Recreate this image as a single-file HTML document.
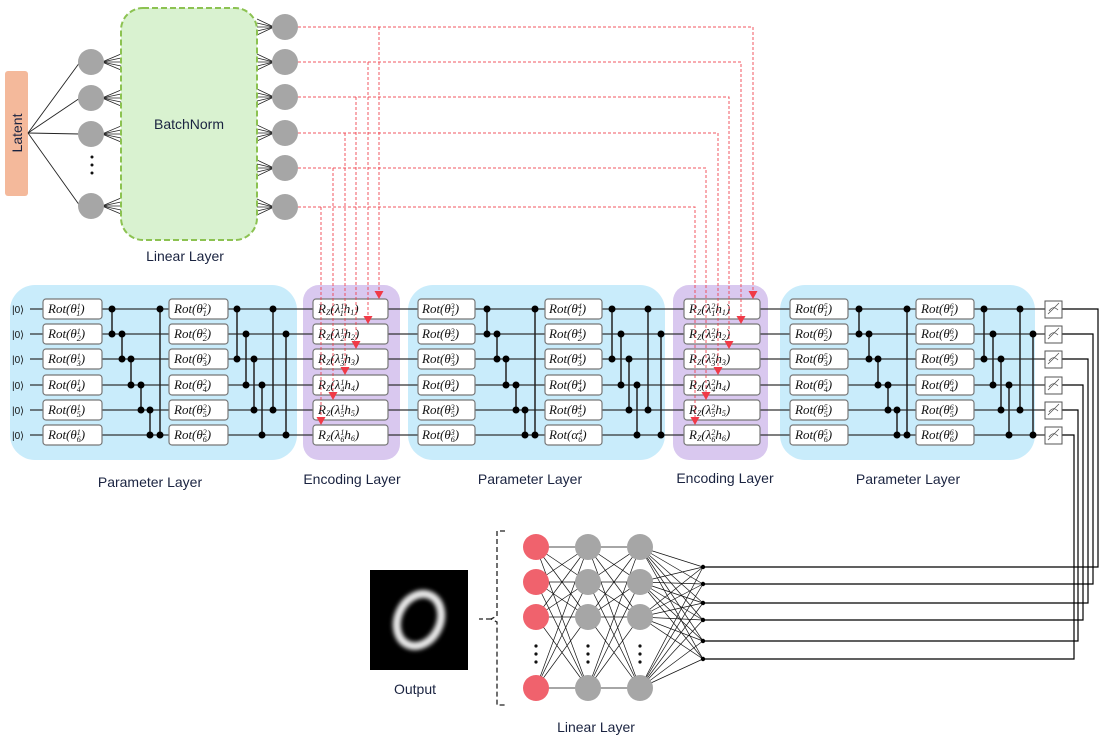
<!DOCTYPE html>
<html><head><meta charset="utf-8"><style>
html,body{margin:0;padding:0;background:#fff;}
svg{display:block;}
.g{font-family:"Liberation Serif",serif;font-style:italic;font-size:13px;fill:#111;}
.s{font-size:8px;}
.lbl{font-family:"Liberation Sans",sans-serif;font-size:14px;fill:#1a2340;}
.k{font-family:"Liberation Sans",sans-serif;font-size:10px;fill:#111;}
</style></head><body>
<svg id="s" width="1105" height="738" viewBox="0 0 1105 738" xmlns="http://www.w3.org/2000/svg">
<defs>
<filter id="bl" x="-50%" y="-50%" width="200%" height="200%"><feGaussianBlur stdDeviation="2.2"/></filter>
</defs>
<rect x="10" y="285" width="287" height="175" rx="25" fill="#c9ecfb"/>
<rect x="303" y="285" width="97" height="175" rx="16" fill="#d9c8ef"/>
<rect x="408" y="285" width="257" height="175" rx="25" fill="#c9ecfb"/>
<rect x="673" y="285" width="95" height="175" rx="16" fill="#d9c8ef"/>
<rect x="780" y="285" width="255" height="175" rx="25" fill="#c9ecfb"/>
<g id="wires"></g>
<g id="boxes"></g>
<g id="dots"></g>
<rect x="5" y="71" width="23" height="125" rx="3" fill="#f4b99b"/>
<text class="lbl" transform="translate(22,133) rotate(-90)" text-anchor="middle" font-size="15">Latent</text>
<g id="topnet"></g>
<rect x="121" y="8" width="136" height="232" rx="22" fill="#d9f2d0" stroke="#8cc251" stroke-width="2" stroke-dasharray="6,3"/>
<text class="lbl" x="189" y="129" text-anchor="middle">BatchNorm</text>
<text class="lbl" x="185" y="261" text-anchor="middle">Linear Layer</text>
<g id="botnet"></g>
<rect x="370" y="570" width="98" height="100" fill="#000"/>
<ellipse cx="419" cy="620" rx="21" ry="27" transform="rotate(25 419 620)" fill="none" stroke="#e8e8e8" stroke-width="8" filter="url(#bl)"/>
<text class="lbl" x="415" y="694" text-anchor="middle">Output</text>
<path d="M505,531 h-8 v85 l-6,3 l6,3 v83 h8 M491,619 h-12" fill="none" stroke="#222" stroke-width="1.3" stroke-dasharray="5,3"/>
<text class="lbl" x="596" y="732" text-anchor="middle">Linear Layer</text>
<text class="lbl" x="150" y="487" text-anchor="middle">Parameter Layer</text>
<text class="lbl" x="352" y="484" text-anchor="middle">Encoding Layer</text>
<text class="lbl" x="530" y="484" text-anchor="middle">Parameter Layer</text>
<text class="lbl" x="725" y="483" text-anchor="middle">Encoding Layer</text>
<text class="lbl" x="908" y="484" text-anchor="middle">Parameter Layer</text>
<text class="k" x="12" y="313">|0⟩</text>
<text class="k" x="12" y="338">|0⟩</text>
<text class="k" x="12" y="363">|0⟩</text>
<text class="k" x="12" y="389">|0⟩</text>
<text class="k" x="12" y="414">|0⟩</text>
<text class="k" x="12" y="439">|0⟩</text>
<g id="txt">
<text class="g" x="48" y="313">Rot(θ<tspan class="s" dy="-4">1</tspan><tspan class="s" dx="-4" dy="7">1</tspan><tspan dy="-3">)</tspan></text>
<text class="g" x="48" y="338">Rot(θ<tspan class="s" dy="-4">1</tspan><tspan class="s" dx="-4" dy="7">2</tspan><tspan dy="-3">)</tspan></text>
<text class="g" x="48" y="363">Rot(θ<tspan class="s" dy="-4">1</tspan><tspan class="s" dx="-4" dy="7">3</tspan><tspan dy="-3">)</tspan></text>
<text class="g" x="48" y="389">Rot(θ<tspan class="s" dy="-4">1</tspan><tspan class="s" dx="-4" dy="7">4</tspan><tspan dy="-3">)</tspan></text>
<text class="g" x="48" y="414">Rot(θ<tspan class="s" dy="-4">1</tspan><tspan class="s" dx="-4" dy="7">5</tspan><tspan dy="-3">)</tspan></text>
<text class="g" x="48" y="439">Rot(θ<tspan class="s" dy="-4">1</tspan><tspan class="s" dx="-4" dy="7">6</tspan><tspan dy="-3">)</tspan></text>
<text class="g" x="174" y="313">Rot(θ<tspan class="s" dy="-4">2</tspan><tspan class="s" dx="-4" dy="7">1</tspan><tspan dy="-3">)</tspan></text>
<text class="g" x="174" y="338">Rot(θ<tspan class="s" dy="-4">2</tspan><tspan class="s" dx="-4" dy="7">2</tspan><tspan dy="-3">)</tspan></text>
<text class="g" x="174" y="363">Rot(θ<tspan class="s" dy="-4">2</tspan><tspan class="s" dx="-4" dy="7">3</tspan><tspan dy="-3">)</tspan></text>
<text class="g" x="174" y="389">Rot(θ<tspan class="s" dy="-4">2</tspan><tspan class="s" dx="-4" dy="7">4</tspan><tspan dy="-3">)</tspan></text>
<text class="g" x="174" y="414">Rot(θ<tspan class="s" dy="-4">2</tspan><tspan class="s" dx="-4" dy="7">5</tspan><tspan dy="-3">)</tspan></text>
<text class="g" x="174" y="439">Rot(θ<tspan class="s" dy="-4">2</tspan><tspan class="s" dx="-4" dy="7">6</tspan><tspan dy="-3">)</tspan></text>
<text class="g" x="318" y="313">R<tspan class="s" dy="2">Z</tspan><tspan dy="-2">(λ</tspan><tspan class="s" dy="-4">1</tspan><tspan class="s" dx="-4" dy="7">1</tspan><tspan dy="-3">h</tspan><tspan class="s" dy="2">1</tspan><tspan dy="-2">)</tspan></text>
<text class="g" x="318" y="338">R<tspan class="s" dy="2">Z</tspan><tspan dy="-2">(λ</tspan><tspan class="s" dy="-4">1</tspan><tspan class="s" dx="-4" dy="7">2</tspan><tspan dy="-3">h</tspan><tspan class="s" dy="2">2</tspan><tspan dy="-2">)</tspan></text>
<text class="g" x="318" y="363">R<tspan class="s" dy="2">Z</tspan><tspan dy="-2">(λ</tspan><tspan class="s" dy="-4">1</tspan><tspan class="s" dx="-4" dy="7">3</tspan><tspan dy="-3">h</tspan><tspan class="s" dy="2">3</tspan><tspan dy="-2">)</tspan></text>
<text class="g" x="318" y="389">R<tspan class="s" dy="2">Z</tspan><tspan dy="-2">(λ</tspan><tspan class="s" dy="-4">1</tspan><tspan class="s" dx="-4" dy="7">4</tspan><tspan dy="-3">h</tspan><tspan class="s" dy="2">4</tspan><tspan dy="-2">)</tspan></text>
<text class="g" x="318" y="414">R<tspan class="s" dy="2">Z</tspan><tspan dy="-2">(λ</tspan><tspan class="s" dy="-4">1</tspan><tspan class="s" dx="-4" dy="7">5</tspan><tspan dy="-3">h</tspan><tspan class="s" dy="2">5</tspan><tspan dy="-2">)</tspan></text>
<text class="g" x="318" y="439">R<tspan class="s" dy="2">Z</tspan><tspan dy="-2">(λ</tspan><tspan class="s" dy="-4">1</tspan><tspan class="s" dx="-4" dy="7">6</tspan><tspan dy="-3">h</tspan><tspan class="s" dy="2">6</tspan><tspan dy="-2">)</tspan></text>
<text class="g" x="422" y="313">Rot(θ<tspan class="s" dy="-4">3</tspan><tspan class="s" dx="-4" dy="7">1</tspan><tspan dy="-3">)</tspan></text>
<text class="g" x="422" y="338">Rot(θ<tspan class="s" dy="-4">3</tspan><tspan class="s" dx="-4" dy="7">2</tspan><tspan dy="-3">)</tspan></text>
<text class="g" x="422" y="363">Rot(θ<tspan class="s" dy="-4">3</tspan><tspan class="s" dx="-4" dy="7">3</tspan><tspan dy="-3">)</tspan></text>
<text class="g" x="422" y="389">Rot(θ<tspan class="s" dy="-4">3</tspan><tspan class="s" dx="-4" dy="7">4</tspan><tspan dy="-3">)</tspan></text>
<text class="g" x="422" y="414">Rot(θ<tspan class="s" dy="-4">3</tspan><tspan class="s" dx="-4" dy="7">5</tspan><tspan dy="-3">)</tspan></text>
<text class="g" x="422" y="439">Rot(θ<tspan class="s" dy="-4">3</tspan><tspan class="s" dx="-4" dy="7">6</tspan><tspan dy="-3">)</tspan></text>
<text class="g" x="549" y="313">Rot(θ<tspan class="s" dy="-4">4</tspan><tspan class="s" dx="-4" dy="7">1</tspan><tspan dy="-3">)</tspan></text>
<text class="g" x="549" y="338">Rot(θ<tspan class="s" dy="-4">4</tspan><tspan class="s" dx="-4" dy="7">2</tspan><tspan dy="-3">)</tspan></text>
<text class="g" x="549" y="363">Rot(θ<tspan class="s" dy="-4">4</tspan><tspan class="s" dx="-4" dy="7">3</tspan><tspan dy="-3">)</tspan></text>
<text class="g" x="549" y="389">Rot(θ<tspan class="s" dy="-4">4</tspan><tspan class="s" dx="-4" dy="7">4</tspan><tspan dy="-3">)</tspan></text>
<text class="g" x="549" y="414">Rot(θ<tspan class="s" dy="-4">4</tspan><tspan class="s" dx="-4" dy="7">5</tspan><tspan dy="-3">)</tspan></text>
<text class="g" x="549" y="439">Rot(α<tspan class="s" dy="-4">4</tspan><tspan class="s" dx="-4" dy="7">6</tspan><tspan dy="-3">)</tspan></text>
<text class="g" x="689" y="313">R<tspan class="s" dy="2">Z</tspan><tspan dy="-2">(λ</tspan><tspan class="s" dy="-4">2</tspan><tspan class="s" dx="-4" dy="7">1</tspan><tspan dy="-3">h</tspan><tspan class="s" dy="2">1</tspan><tspan dy="-2">)</tspan></text>
<text class="g" x="689" y="338">R<tspan class="s" dy="2">Z</tspan><tspan dy="-2">(λ</tspan><tspan class="s" dy="-4">2</tspan><tspan class="s" dx="-4" dy="7">2</tspan><tspan dy="-3">h</tspan><tspan class="s" dy="2">2</tspan><tspan dy="-2">)</tspan></text>
<text class="g" x="689" y="363">R<tspan class="s" dy="2">Z</tspan><tspan dy="-2">(λ</tspan><tspan class="s" dy="-4">2</tspan><tspan class="s" dx="-4" dy="7">3</tspan><tspan dy="-3">h</tspan><tspan class="s" dy="2">3</tspan><tspan dy="-2">)</tspan></text>
<text class="g" x="689" y="389">R<tspan class="s" dy="2">Z</tspan><tspan dy="-2">(λ</tspan><tspan class="s" dy="-4">2</tspan><tspan class="s" dx="-4" dy="7">4</tspan><tspan dy="-3">h</tspan><tspan class="s" dy="2">4</tspan><tspan dy="-2">)</tspan></text>
<text class="g" x="689" y="414">R<tspan class="s" dy="2">Z</tspan><tspan dy="-2">(λ</tspan><tspan class="s" dy="-4">2</tspan><tspan class="s" dx="-4" dy="7">5</tspan><tspan dy="-3">h</tspan><tspan class="s" dy="2">5</tspan><tspan dy="-2">)</tspan></text>
<text class="g" x="689" y="439">R<tspan class="s" dy="2">Z</tspan><tspan dy="-2">(λ</tspan><tspan class="s" dy="-4">2</tspan><tspan class="s" dx="-4" dy="7">6</tspan><tspan dy="-3">h</tspan><tspan class="s" dy="2">6</tspan><tspan dy="-2">)</tspan></text>
<text class="g" x="795" y="313">Rot(θ<tspan class="s" dy="-4">5</tspan><tspan class="s" dx="-4" dy="7">1</tspan><tspan dy="-3">)</tspan></text>
<text class="g" x="795" y="338">Rot(θ<tspan class="s" dy="-4">5</tspan><tspan class="s" dx="-4" dy="7">2</tspan><tspan dy="-3">)</tspan></text>
<text class="g" x="795" y="363">Rot(θ<tspan class="s" dy="-4">5</tspan><tspan class="s" dx="-4" dy="7">3</tspan><tspan dy="-3">)</tspan></text>
<text class="g" x="795" y="389">Rot(θ<tspan class="s" dy="-4">5</tspan><tspan class="s" dx="-4" dy="7">4</tspan><tspan dy="-3">)</tspan></text>
<text class="g" x="795" y="414">Rot(θ<tspan class="s" dy="-4">5</tspan><tspan class="s" dx="-4" dy="7">5</tspan><tspan dy="-3">)</tspan></text>
<text class="g" x="795" y="439">Rot(θ<tspan class="s" dy="-4">5</tspan><tspan class="s" dx="-4" dy="7">6</tspan><tspan dy="-3">)</tspan></text>
<text class="g" x="921" y="313">Rot(θ<tspan class="s" dy="-4">6</tspan><tspan class="s" dx="-4" dy="7">1</tspan><tspan dy="-3">)</tspan></text>
<text class="g" x="921" y="338">Rot(θ<tspan class="s" dy="-4">6</tspan><tspan class="s" dx="-4" dy="7">2</tspan><tspan dy="-3">)</tspan></text>
<text class="g" x="921" y="363">Rot(θ<tspan class="s" dy="-4">6</tspan><tspan class="s" dx="-4" dy="7">3</tspan><tspan dy="-3">)</tspan></text>
<text class="g" x="921" y="389">Rot(θ<tspan class="s" dy="-4">6</tspan><tspan class="s" dx="-4" dy="7">4</tspan><tspan dy="-3">)</tspan></text>
<text class="g" x="921" y="414">Rot(θ<tspan class="s" dy="-4">6</tspan><tspan class="s" dx="-4" dy="7">5</tspan><tspan dy="-3">)</tspan></text>
<text class="g" x="921" y="439">Rot(θ<tspan class="s" dy="-4">6</tspan><tspan class="s" dx="-4" dy="7">6</tspan><tspan dy="-3">)</tspan></text>
</g>
<g id="red"></g>
</svg>
<script>
var NS="http://www.w3.org/2000/svg";
function el(p,t,a){var e=document.createElementNS(NS,t);for(var k in a)e.setAttribute(k,a[k]);document.getElementById(p).appendChild(e);return e;}
var Y=[309,334,359,385,410,435];
var VX=[1098,1093,1088,1083,1078,1074], DY=[567,584,603,620,641,659];
for(var i=0;i<6;i++){
 el("wires","line",{x1:30,y1:Y[i],x2:1045,y2:Y[i],stroke:"#333","stroke-width":1.2});
 el("wires","polyline",{points:"1062,"+Y[i]+" "+VX[i]+","+Y[i]+" "+VX[i]+","+DY[i]+" 703,"+DY[i],fill:"none",stroke:"#000","stroke-width":1.2});
}
var cols=[[43,59],[169,59],[313,75],[418,57],[545,57],[684,76],[790,58],[916,58]];
cols.forEach(function(c){for(var i=0;i<6;i++)el("boxes","rect",{x:c[0],y:Y[i]-10,width:c[1],height:20,rx:3,fill:"#fff",stroke:"#777","stroke-width":1.2});});
for(var i=0;i<6;i++){
 el("boxes","rect",{x:1045,y:Y[i]-8,width:17,height:17,fill:"#fff",stroke:"#555","stroke-width":1});
 el("boxes","path",{d:"M1048,"+(Y[i]+5)+" L1059,"+(Y[i]-6)+" M1049,"+(Y[i]+2)+" Q1053,"+(Y[i]-4)+" 1058,"+(Y[i]+1),fill:"none",stroke:"#555","stroke-width":0.8});
}
var pr=[[112,0,1],[122,1,2],[131,2,3],[141,3,4],[150,4,5],[160,0,5],[237,0,2],[246,1,3],[254,2,4],[262,3,5],[273,0,4],[286,1,5]];
[0,375,747].forEach(function(o){pr.forEach(function(p){var x=p[0]+o;
 el("dots","line",{x1:x,y1:Y[p[1]],x2:x,y2:Y[p[2]],stroke:"#222","stroke-width":1.5});
 el("dots","circle",{cx:x,cy:Y[p[1]],r:3.5,fill:"#000"});el("dots","circle",{cx:x,cy:Y[p[2]],r:3.5,fill:"#000"});});});
var LN=[62,98,134,206], RN=[27,62,97,133,168,207];
LN.forEach(function(y){el("topnet","line",{x1:28,y1:133,x2:80,y2:y,stroke:"#222","stroke-width":0.9});
 for(var k=-2;k<=2;k++)el("topnet","line",{x1:102,y1:y,x2:121,y2:y+k*4,stroke:"#222","stroke-width":0.7});
 el("topnet","circle",{cx:91,cy:y,r:13,fill:"#a6a6a6"});});
[157,165,173].forEach(function(y){el("topnet","circle",{cx:92,cy:y,r:1.5,fill:"#111"});});
RN.forEach(function(y){for(var k=-2;k<=2;k++)el("topnet","line",{x1:257,y1:y+k*4,x2:274,y2:y,stroke:"#222","stroke-width":0.7});
 el("topnet","circle",{cx:285,cy:y,r:13,fill:"#a6a6a6"});});
var E1=[379,368,356,345,333,321], E2=[753,741,729,718,706,695];
for(var i=0;i<6;i++){var y=RN[i],t=Y[i]-11;
 var a={fill:"none",stroke:"#f03a47","stroke-width":1,"stroke-dasharray":"3,2",opacity:0.85};
 a.points="298,"+y+" "+E2[i]+","+y+" "+E2[i]+","+(t-6);el("red","polyline",a);
 var b={fill:"none",stroke:"#f03a47","stroke-width":1,"stroke-dasharray":"3,2",opacity:0.85,points:E1[i]+","+y+" "+E1[i]+","+(t-6)};el("red","polyline",b);
 [E1[i],E2[i]].forEach(function(x){el("red","path",{d:"M"+(x-4.5)+","+(t-7)+" L"+(x+4.5)+","+(t-7)+" L"+x+","+(t+1)+"Z",fill:"#f03a47"});});
}
var C1=[547,582,617,688];
function cl(x1,x2,A,B){A.forEach(function(a){B.forEach(function(b){el("botnet","line",{x1:x1,y1:a,x2:x2,y2:b,stroke:"#111","stroke-width":0.7});});});}
cl(536,588,C1,C1);cl(588,640,C1,C1);cl(640,703,C1,DY);
C1.forEach(function(y){el("botnet","circle",{cx:536,cy:y,r:13,fill:"#f0626d"});el("botnet","circle",{cx:588,cy:y,r:13,fill:"#a6a6a6"});el("botnet","circle",{cx:640,cy:y,r:13,fill:"#a6a6a6"});});
[536,588,640].forEach(function(x){[646,654,662].forEach(function(y){el("botnet","circle",{cx:x,cy:y,r:1.6,fill:"#111"});});});
DY.forEach(function(y){el("botnet","circle",{cx:703,cy:y,r:2.2,fill:"#000"});});
</script>
</body></html>
